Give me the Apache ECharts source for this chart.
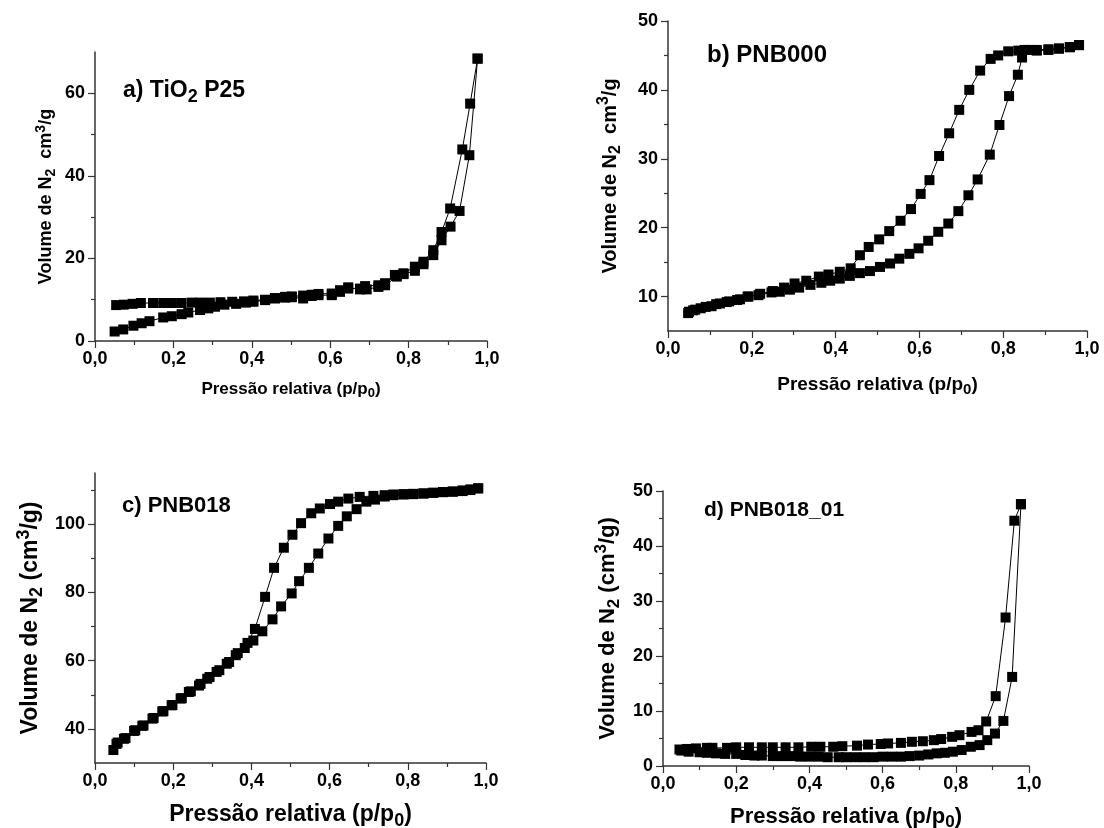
<!DOCTYPE html>
<html><head><meta charset="utf-8">
<script src="https://cdn.jsdelivr.net/npm/echarts@6/dist/echarts.min.js"></script>
<style>html,body{margin:0;padding:0;background:#fff}#c{width:1104px;height:828px}</style>
</head><body><div id="c"></div>
<script>
// ---------- DATA ----------
const xTickValues = [0, 0.2, 0.4, 0.6, 0.8, 1.0];
const xTickLabels = ['0,0', '0,2', '0,4', '0,6', '0,8', '1,0'];

// a) TiO2 P25
const aAdsX = [0.05,0.072,0.098,0.119,0.139,0.174,0.196,0.221,0.238,0.268,0.289,0.306,0.33,0.36,0.385,0.404,0.434,0.459,0.485,0.502,0.531,0.553,0.57,0.604,0.625,0.646,0.676,0.693,0.723,0.74,0.77,0.787,0.816,0.838,0.863,0.884,0.907,0.93,0.955,0.976];
const aAdsY = [2.3,2.8,3.7,4.3,4.8,5.7,6.0,6.5,6.9,7.5,7.9,8.3,8.8,9.0,9.3,9.5,9.9,10.3,10.5,10.6,10.3,10.9,11.1,11.1,11.9,12.7,12.7,12.5,13.1,13.5,15.6,16.2,17.0,18.6,20.8,24.4,27.7,31.5,45.0,68.4];
const aDesX = [0.976,0.957,0.937,0.906,0.884,0.863,0.838,0.816,0.787,0.765,0.74,0.723,0.689,0.676,0.646,0.625,0.604,0.57,0.553,0.531,0.502,0.485,0.459,0.434,0.404,0.38,0.35,0.32,0.293,0.268,0.246,0.22,0.196,0.174,0.148,0.117,0.096,0.073,0.054];
const aDesY = [68.4,57.5,46.4,32.1,26.4,22.0,19.2,18.0,16.4,16.0,14.0,13.5,13.3,12.5,13.0,12.3,11.5,11.4,11.2,11.0,10.8,10.7,10.4,10.0,9.8,9.6,9.5,9.4,9.3,9.3,9.3,9.2,9.2,9.2,9.2,9.2,9.0,8.8,8.7];
const aYTicks = [0, 20, 40, 60];
const aYMinor = [10, 30, 50];

// b) PNB000
const bAdsX = [0.048,0.06,0.078,0.104,0.124,0.146,0.172,0.192,0.216,0.247,0.267,0.291,0.313,0.34,0.366,0.387,0.41,0.434,0.458,0.482,0.506,0.53,0.552,0.576,0.598,0.621,0.645,0.669,0.693,0.717,0.739,0.768,0.791,0.814,0.835,0.845,0.86,0.88,0.908,0.933,0.959,0.981];
const bAdsY = [7.6,8.0,8.3,8.6,9.0,9.3,9.6,10.0,10.2,10.6,10.7,11.0,11.3,11.7,12.0,12.3,12.6,13.0,13.4,13.7,14.3,14.8,15.5,16.2,17.0,18.1,19.4,20.6,22.4,24.7,27.0,30.6,34.9,39.1,42.2,44.7,45.8,45.7,45.8,46.0,46.2,46.5];
const bDesX = [0.981,0.959,0.933,0.908,0.88,0.851,0.836,0.812,0.788,0.77,0.745,0.719,0.695,0.671,0.647,0.624,0.603,0.58,0.555,0.528,0.504,0.479,0.458,0.436,0.41,0.383,0.36,0.33,0.302,0.277,0.25,0.22,0.19,0.165,0.14,0.115,0.09,0.065,0.05];
const bDesY = [46.5,46.2,46.0,45.9,45.8,45.8,45.7,45.6,45.0,44.5,42.8,40.0,37.1,33.7,30.4,26.9,24.9,22.7,21.0,19.5,18.3,17.2,16.0,14.1,13.6,13.2,12.9,12.3,11.9,11.3,10.8,10.4,10.0,9.5,9.2,8.9,8.5,8.1,7.8];
const bYTicks = [10, 20, 30, 40, 50];
const bYMinor = [15, 25, 35, 45];

// c) PNB018
const cAdsX = [0.047,0.055,0.074,0.1,0.121,0.147,0.172,0.196,0.219,0.24,0.266,0.287,0.311,0.337,0.36,0.383,0.405,0.428,0.454,0.476,0.503,0.522,0.547,0.571,0.597,0.622,0.644,0.669,0.694,0.716,0.741,0.763,0.789,0.814,0.84,0.865,0.89,0.915,0.94,0.96,0.98];
const cAdsY = [33.8,35.6,37.1,39.4,40.9,43.0,45.1,46.9,48.9,50.8,52.7,54.7,56.7,59.1,61.6,63.7,65.9,68.6,72.1,75.9,79.7,83.3,87.2,91.4,95.8,99.5,102.3,104.4,106.6,107.2,108.1,108.5,108.7,108.8,109.0,109.2,109.4,109.5,109.7,110.0,110.5];
const cDesX = [0.98,0.96,0.94,0.915,0.89,0.865,0.84,0.814,0.789,0.763,0.741,0.712,0.677,0.648,0.622,0.601,0.575,0.553,0.527,0.505,0.483,0.458,0.435,0.409,0.39,0.365,0.343,0.318,0.293,0.27,0.245,0.222,0.198,0.175,0.15,0.124,0.103,0.078,0.058];
const cDesY = [110.5,110.2,109.9,109.6,109.4,109.2,109.0,108.9,108.8,108.7,108.5,108.3,108.0,107.5,106.6,105.9,104.6,103.2,100.3,96.9,93.1,87.2,78.7,69.3,65.2,62.2,59.6,57.2,55.2,53.2,51.0,49.0,47.0,45.2,43.2,41.0,39.6,37.3,36.0];
const cYTicks = [40, 60, 80, 100];
const cYMinor = [50, 70, 90, 110];

// d) PNB018_01
const dAdsX = [0.05,0.07,0.1,0.12,0.145,0.17,0.2,0.225,0.25,0.27,0.3,0.325,0.35,0.375,0.4,0.425,0.45,0.48,0.5,0.525,0.55,0.575,0.6,0.625,0.65,0.674,0.7,0.725,0.748,0.77,0.792,0.816,0.841,0.865,0.886,0.907,0.93,0.954,0.978];
const dAdsY = [2.8,2.6,2.5,2.4,2.3,2.2,2.2,2.0,1.9,1.9,1.8,1.8,1.8,1.7,1.7,1.7,1.6,1.6,1.6,1.6,1.6,1.6,1.7,1.7,1.7,1.8,1.9,2.1,2.3,2.4,2.6,2.9,3.5,3.8,4.7,5.9,8.2,16.2,47.6];
const dDesX = [0.978,0.96,0.936,0.909,0.883,0.862,0.843,0.81,0.79,0.76,0.74,0.71,0.68,0.65,0.615,0.595,0.56,0.53,0.49,0.465,0.43,0.405,0.37,0.335,0.3,0.27,0.235,0.2,0.175,0.135,0.12,0.09,0.065,0.045];
const dDesY = [47.6,44.6,27.0,12.7,8.1,6.5,6.2,5.6,5.3,4.9,4.7,4.5,4.4,4.2,4.1,4.0,3.9,3.7,3.6,3.5,3.5,3.5,3.4,3.4,3.4,3.4,3.4,3.4,3.3,3.3,3.3,3.2,3.1,3.0];
const dYTicks = [0, 10, 20, 30, 40, 50];
const dYMinor = [5, 15, 25, 35, 45];

// ---------- CHART ----------
const FONT = "'Liberation Sans', Arial, Helvetica, sans-serif";
const AX = '#333';
function rich(fs) {
  const sub = Math.round(fs * 0.78);
  return {
    b: {fontSize: fs, fontWeight: 'bold', fontFamily: FONT, color: '#000', verticalAlign: 'middle'},
    s: {fontSize: sub, fontWeight: 'bold', fontFamily: FONT, color: '#000', verticalAlign: 'middle', padding: [Math.round(fs*0.55), 0, 0, 0]},
    p: {fontSize: sub, fontWeight: 'bold', fontFamily: FONT, color: '#000', verticalAlign: 'middle', padding: [0, 0, Math.round(fs*0.6), 0]}
  };
}
const xName = '{b|Pressão relativa (p/p}{s|0}{b|)}';
const yNameAB = '{b|Volume de N}{s|2}{b|  cm}{p|3}{b|/g}';
const yNameCD = '{b|Volume de N}{s|2}{b| (cm}{p|3}{b|/g)}';

const panels = [
  {grid:{left:95, top:52, width:392, height:289}, ymin:0, ymax:70, yt:aYTicks, ym:aYMinor,
   ads:[aAdsX,aAdsY], des:[aDesX,aDesY], yName:yNameAB, yFs:18, yGap:36, xFs:17, xGap:37, tickFs:18,
   title:'{b|a) TiO}{s|2}{b| P25}', tFs:23, tl:123, tt:75},
  {grid:{left:668, top:21, width:419, height:310}, ymin:5, ymax:50, yt:bYTicks, ym:bYMinor,
   ads:[bAdsX,bAdsY], des:[bDesX,bDesY], yName:yNameAB, yFs:20, yGap:44, xFs:19, xGap:41, tickFs:18,
   title:'{b|b) PNB000}', tFs:24, tl:707, tt:43},
  {grid:{left:95, top:473, width:391, height:290}, ymin:30, ymax:115, yt:cYTicks, ym:cYMinor,
   ads:[cAdsX,cAdsY], des:[cDesX,cDesY], yName:yNameCD, yFs:23, yGap:48, xFs:23, xGap:36, tickFs:18,
   title:'{b|c) PNB018}', tFs:22, tl:122, tt:495},
  {grid:{left:663, top:491, width:366, height:275}, ymin:0, ymax:50, yt:dYTicks, ym:dYMinor,
   ads:[dAdsX,dAdsY], des:[dDesX,dDesY], yName:yNameCD, yFs:22, yGap:40, xFs:22, xGap:36, tickFs:18,
   title:'{b|d) PNB018_01}', tFs:21, tl:704, tt:500}
];

const option = {animation:false, backgroundColor:'#fff', title:[], grid:[], xAxis:[], yAxis:[], series:[]};
panels.forEach((p, i) => {
  option.grid.push(Object.assign({outerBoundsMode:'none', containLabel:false}, p.grid));
  option.title.push({text:p.title, left:p.tl, top:p.tt, padding:0, textStyle:{rich:rich(p.tFs)}});
  option.xAxis.push({
    type:'value', gridIndex:i, min:0, max:1, interval:0.2,
    name:xName, nameLocation:'middle', nameGap:p.xGap, nameTextStyle:{rich:rich(p.xFs)},
    axisLine:{show:true, onZero:false, lineStyle:{color:AX, width:1.5}},
    axisTick:{show:true, inside:false, length:7, lineStyle:{color:AX, width:1.2}},
    minorTick:{show:true, splitNumber:2, length:4, lineStyle:{color:AX, width:1.2}},
    axisLabel:{margin:9, fontSize:p.tickFs, fontWeight:'bold', fontFamily:FONT, color:'#000',
      customValues:xTickValues,
      formatter:v => { const k = xTickValues.findIndex(t => Math.abs(t - v) < 1e-6); return k >= 0 ? xTickLabels[k] : ''; }},
    splitLine:{show:false}
  });
  option.yAxis.push({
    type:'value', gridIndex:i, min:p.ymin, max:p.ymax,
    name:p.yName, nameLocation:'middle', nameGap:p.yGap, nameRotate:90, nameTextStyle:{rich:rich(p.yFs)},
    axisLine:{show:true, onZero:false, lineStyle:{color:AX, width:1.5}},
    axisTick:{show:true, length:7, customValues:p.yt, lineStyle:{color:AX, width:1.2}},
    axisLabel:{margin:10, fontSize:p.tickFs, fontWeight:'bold', fontFamily:FONT, color:'#000', customValues:p.yt},
    splitLine:{show:false}
  });
  option.yAxis.push({
    type:'value', gridIndex:i, min:p.ymin, max:p.ymax, position:'left',
    axisLine:{show:false}, axisLabel:{show:false}, splitLine:{show:false},
    axisTick:{show:true, length:4, customValues:p.ym, lineStyle:{color:AX, width:1.2}}
  });
  [p.ads, p.des].forEach(([xs, ys]) => {
    option.series.push({
      type:'line', xAxisIndex:i, yAxisIndex:2*i,
      data: xs.map((x, k) => [x, ys[k]]),
      symbol:'rect', symbolSize:10, showSymbol:true, clip:false,
      itemStyle:{color:'#000'}, lineStyle:{color:'#000', width:1}
    });
  });
});
const chart = echarts.init(document.getElementById('c'), null, {renderer:'canvas'});
chart.setOption(option);
</script></body></html>
